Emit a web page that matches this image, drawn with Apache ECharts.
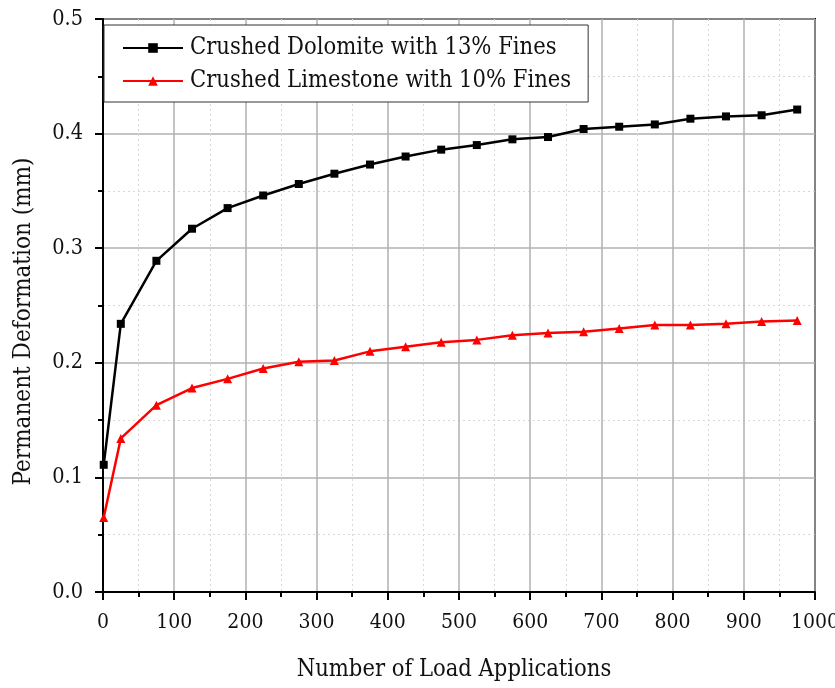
<!DOCTYPE html>
<html><head><meta charset="utf-8">
<script src="https://cdn.jsdelivr.net/npm/echarts@6/dist/echarts.min.js"></script>
<style>html,body{margin:0;padding:0;background:#fff}#c{width:835px;height:688px}</style>
</head><body><div id="c"></div>
<script>
const loads = [1, 25, 75, 125, 175, 225, 275, 325, 375, 425, 475, 525, 575, 625, 675, 725, 775, 825, 875, 925, 975];
const dolomite = [0.111, 0.234, 0.289, 0.317, 0.335, 0.346, 0.356, 0.365, 0.373, 0.380, 0.386, 0.390, 0.395, 0.397, 0.404, 0.406, 0.408, 0.413, 0.415, 0.416, 0.421];
const limestone = [0.065, 0.134, 0.163, 0.178, 0.186, 0.195, 0.201, 0.202, 0.210, 0.214, 0.218, 0.220, 0.224, 0.226, 0.227, 0.230, 0.233, 0.233, 0.234, 0.236, 0.237];
const seriesNames = ['Crushed Dolomite with 13% Fines', 'Crushed Limestone with 10% Fines'];
const xTitle = 'Number of Load Applications';
const yTitle = 'Permanent Deformation (mm)';

const serif = '"DejaVu Serif Condensed", "DejaVu Serif", serif';
const chart = echarts.init(document.getElementById('c'), null, {renderer: 'canvas'});
chart.setOption({
  animation: false,
  backgroundColor: '#fff',
  grid: {left: 103, right: 20, top: 19, bottom: 96, show: true, borderColor: '#000', borderWidth: 2,
         backgroundColor: 'transparent', containLabel: false, outerBoundsMode: 'none'},
  legend: {
    orient: 'vertical', left: 104, top: 25,
    padding: [10, 17, 8, 18],
    backgroundColor: '#fff', borderColor: '#333', borderWidth: 1,
    itemWidth: 60, itemHeight: 12, itemGap: 7,
    textStyle: {fontFamily: serif, fontSize: 23.5, lineHeight: 26, color: '#111', padding: [0, 0, 0, 2]},
    data: seriesNames
  },
  xAxis: {
    type: 'value', min: 0, max: 1000, interval: 100,
    name: xTitle, nameLocation: 'middle', nameGap: 66,
    nameTextStyle: {fontFamily: serif, fontSize: 23.5, color: '#111', padding: [0, 10, 0, 0]},
    axisLine: {show: true, lineStyle: {color: '#000', width: 2}},
    axisTick: {show: true, inside: false, length: 8, lineStyle: {color: '#000', width: 2}},
    minorTick: {show: true, splitNumber: 2, length: 5, lineStyle: {color: '#000', width: 2}},
    axisLabel: {fontFamily: serif, fontSize: 21, color: '#111', margin: 20, formatter: v => String(v)},
    splitLine: {show: true, lineStyle: {color: '#b0b0b0', width: 1.5}},
    minorSplitLine: {show: true, lineStyle: {color: '#d8d8d8', width: 1, type: [2, 3]}}
  },
  yAxis: {
    type: 'value', min: 0, max: 0.5, interval: 0.1,
    name: yTitle, nameLocation: 'middle', nameGap: 67,
    nameTextStyle: {fontFamily: serif, fontSize: 24, color: '#111', padding: [0, 32, 0, 0]},
    axisLine: {show: true, lineStyle: {color: '#000', width: 2}},
    axisTick: {show: true, inside: false, length: 8, lineStyle: {color: '#000', width: 2}},
    minorTick: {show: true, splitNumber: 2, length: 5, lineStyle: {color: '#000', width: 2}},
    axisLabel: {fontFamily: serif, fontSize: 21.5, color: '#111', margin: 20, formatter: v => v.toFixed(1)},
    splitLine: {show: true, lineStyle: {color: '#b0b0b0', width: 1.5}},
    minorSplitLine: {show: true, lineStyle: {color: '#d8d8d8', width: 1, type: [2, 3]}}
  },
  series: [
    {name: seriesNames[0], type: 'line', data: loads.map((x, i) => [x, dolomite[i]]),
     symbol: 'rect', symbolSize: 8, itemStyle: {color: '#000'}, lineStyle: {color: '#000', width: 2.5}, z: 3},
    {name: seriesNames[1], type: 'line', data: loads.map((x, i) => [x, limestone[i]]),
     symbol: 'triangle', symbolSize: 9, itemStyle: {color: '#f00'}, lineStyle: {color: '#f00', width: 2.5}, z: 3}
  ]
});
</script></body></html>
